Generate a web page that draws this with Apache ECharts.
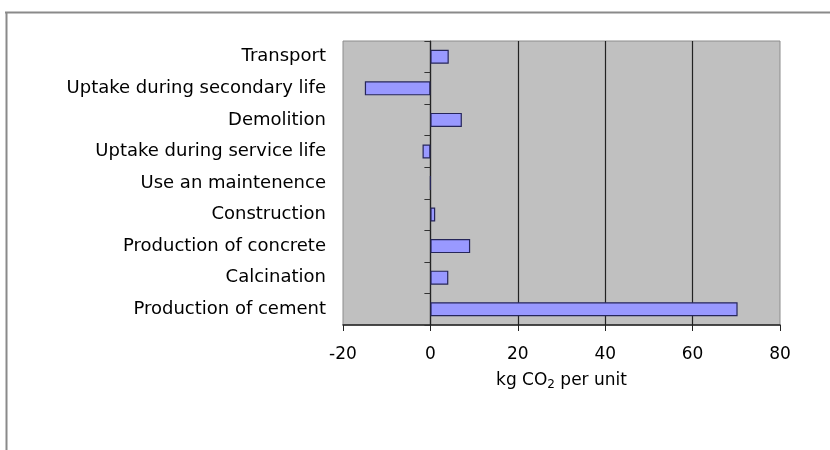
<!DOCTYPE html>
<html>
<head>
<meta charset="utf-8">
<script src="https://cdn.jsdelivr.net/npm/echarts@6/dist/echarts.min.js"></script>
<style>html,body{margin:0;padding:0;background:#fff;}#c{width:830px;height:450px;}</style>
</head>
<body>
<div id="c"></div>
<script>
// Data (top to bottom as shown)
var categories = ['Transport','Uptake during secondary life','Demolition','Uptake during service life','Use an maintenence','Construction','Production of concrete','Calcination','Production of cement'];
var values = [4.2, -15, 7.2, -1.8, 0, 1.1, 9.1, 4.1, 70.3];
var xTicks = [-20, 0, 20, 40, 60, 80];

var FONT = 'DejaVu Sans';
var chart = echarts.init(document.getElementById('c'), null, {renderer: 'canvas'});
chart.setOption({
  animation: false,
  backgroundColor: '#ffffff',
  grid: {left: 343, right: 50, top: 41, bottom: 125, show: true, backgroundColor: '#c0c0c0', borderColor: '#8c8c8c', borderWidth: 1},
  xAxis: {
    type: 'value', min: xTicks[0], max: xTicks[xTicks.length - 1], interval: 20,
    axisLine: {show: true, onZero: false, lineStyle: {color: '#222', width: 1.5}},
    axisTick: {show: true, length: 6, lineStyle: {color: '#222'}},
    axisLabel: {margin: 21, color: '#000', fontFamily: FONT, fontSize: 17},
    splitLine: {show: true, showMinLine: false, showMaxLine: false, lineStyle: {color: '#222', width: 1.2}},
    name: '{a|kg CO}{s|2}{a| per unit}',
    nameLocation: 'middle', nameGap: 46,
    nameTextStyle: {rich: {
      a: {fontFamily: FONT, fontSize: 17, color: '#000'},
      s: {fontFamily: FONT, fontSize: 12, color: '#000', verticalAlign: 'bottom', padding: [8, 0, 0, 0]}
    }}
  },
  yAxis: [{
    type: 'category', data: categories, inverse: true, position: 'left',
    axisLine: {show: false, onZero: false},
    axisTick: {show: false},
    axisLabel: {margin: 17, color: '#000', fontFamily: FONT, fontSize: 18},
    splitLine: {show: false}
  }, {
    type: 'category', data: categories, inverse: true, position: 'left',
    axisLine: {show: true, onZero: true, lineStyle: {color: '#222', width: 1.2}},
    axisTick: {show: true, length: 6, lineStyle: {color: '#333'}},
    axisLabel: {show: false},
    splitLine: {show: false}
  }],
  series: [{
    type: 'bar', data: values, yAxisIndex: 0, barWidth: 14,
    itemStyle: {color: '#9999ff', borderColor: '#26265a', borderWidth: 1.2}
  }],
  graphic: [
    {type: 'line', shape: {x1: 5, y1: 12.5, x2: 830, y2: 12.5}, style: {stroke: '#8a8a8a', lineWidth: 2}},
    {type: 'line', shape: {x1: 6.5, y1: 12, x2: 6.5, y2: 450}, style: {stroke: '#8a8a8a', lineWidth: 2}}
  ]
});
</script>
</body>
</html>
